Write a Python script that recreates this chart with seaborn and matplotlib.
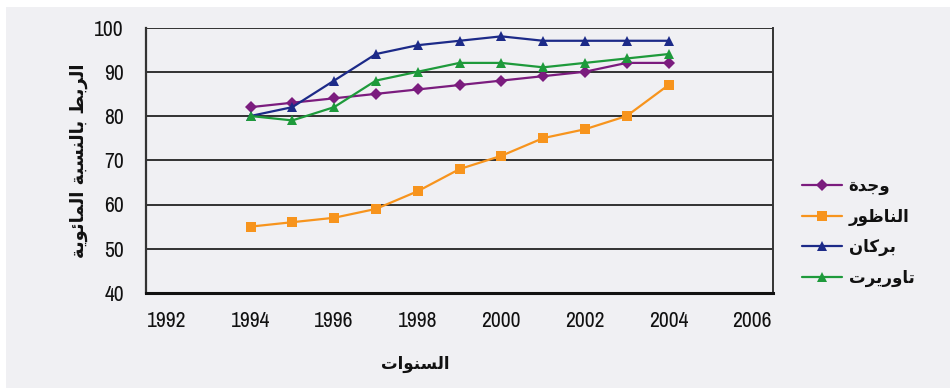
import matplotlib
matplotlib.use('Agg')
import matplotlib.pyplot as plt
from matplotlib.patches import Rectangle
import pandas as pd
import seaborn as sns

# Arabic text pre-shaped (presentation forms, visual order) since matplotlib has no RTL shaping
city_names = [
    '\uFE93\uFEAA\uFE9F\uFEED',                          # وجدة
    '\uFEAD\uFEEE\uFEC7\uFE8E\uFEE8\uFEDF\uFE8D',        # الناظور
    '\uFEE5\uFE8E\uFEDB\uFEAE\uFE91',                    # بركان
    '\uFE95\uFEAE\uFEF3\uFEAD\uFEED\uFE8E\uFE97',        # تاوريرت
]
x_label = '\uFE95\uFE8D\uFEEE\uFEE8\uFEB4\uFEDF\uFE8D'   # السنوات
y_label = ('\uFE94\uFEF3\uFEEE\uFE8B\uFE8E\uFEE4\uFEDF\uFE8D '
           '\uFE94\uFE92\uFEB4\uFEE8\uFEDF\uFE8E\uFE91 '
           '\uFEC2\uFE91\uFEAE\uFEDF\uFE8D')            # الربط بالنسبة المائوية

years = [1994, 1995, 1996, 1997, 1998, 1999, 2000, 2001, 2002, 2003, 2004]
oujda = [82, 83, 84, 85, 86, 87, 88, 89, 90, 92, 92]
nador = [55, 56, 57, 59, 63, 68, 71, 75, 77, 80, 87]
berkane = [80, 82, 88, 94, 96, 97, 98, 97, 97, 97, 97]
taourirt = [80, 79, 82, 88, 90, 92, 92, 91, 92, 93, 94]

colors = ['#7b1c7e', '#f7941d', '#1c2a88', '#1e9a3b']
markers = ['D', 's', '^', '^']
marker_sizes = [6, 7, 7, 7]

frames = []
for name, vals in zip(city_names, [oujda, nador, berkane, taourirt]):
    frames.append(pd.DataFrame({'year': years, 'value': vals, 'city': name}))
df = pd.concat(frames, ignore_index=True)

sns.set_style('white')
plt.rcParams['font.family'] = ['DejaVu Sans']
num_font = ['Archivo Narrow', 'Liberation Sans Narrow', 'DejaVu Sans']

fig = plt.figure(figsize=(9.5, 3.88), dpi=100, facecolor='white')
fig.patches.append(Rectangle((6 / 950, 0), 1, 1 - 7 / 388, transform=fig.transFigure,
                             facecolor='#f0f0f3', edgecolor='none', zorder=-5))
ax = fig.add_axes([146 / 950, 1 - 293 / 388, 627 / 950, 265.5 / 388])
ax.set_facecolor('none')

sns.lineplot(data=df, x='year', y='value', hue='city', style='city',
             palette=dict(zip(city_names, colors)),
             markers=dict(zip(city_names, markers)), dashes=False,
             markersize=7, markeredgewidth=0, linewidth=1.6, ax=ax, legend=False)
for line, ms in zip(ax.lines, marker_sizes):
    line.set_markersize(ms)

# Excel style category axis: labels every 2 years, tick marks between categories
ax.set_xlim(1991.5, 2006.5)
ax.set_xticks(range(1992, 2007, 2))
ax.set_xticks([y + 0.5 for y in range(1991, 2007)], minor=True)
ax.tick_params(axis='x', which='major', length=0, pad=13, labelsize=15.5)
ax.tick_params(axis='x', which='minor', length=5, width=1.2, color='#222222', direction='out')
ax.set_ylim(40, 100)
ax.set_yticks(range(40, 101, 10))
ax.tick_params(axis='y', length=5, width=1.2, color='#222222', direction='out', pad=11, labelsize=15.5)
for lab in ax.get_xticklabels() + ax.get_yticklabels():
    lab.set_family(num_font)
    lab.set_color('#111111')
ax.yaxis.grid(True, color='#111111', linewidth=1.2)
ax.set_axisbelow(True)

ax.spines['top'].set_visible(False)
ax.spines['left'].set_color('#333333')
ax.spines['left'].set_linewidth(1.6)
ax.spines['bottom'].set_color('#111111')
ax.spines['bottom'].set_linewidth(2.2)
ax.spines['right'].set_color('#333333')
ax.spines['right'].set_linewidth(1.4)

ax.set_xlabel(x_label, fontsize=12, fontweight='bold', color='#111111')
ax.xaxis.set_label_coords((415 - 146) / 627, -0.235)
ax.set_ylabel(y_label, fontsize=13, fontweight='bold', color='#111111')
ax.yaxis.set_label_coords(-0.093, 0.5)

handles = [plt.Line2D([], [], color=c, marker=m, markersize=ms, markeredgewidth=0, linewidth=1.6)
           for c, m, ms in zip(colors, markers, marker_sizes)]
fig.legend(handles, city_names, loc='upper left', bbox_to_anchor=(787 / 950, 1 - 162 / 388),
           frameon=False, handlelength=2.4, labelspacing=0.75, handletextpad=0.4,
           labelcolor='#111111',
           prop={'family': 'DejaVu Sans', 'weight': 'bold', 'size': 12})

fig.savefig('out.png', dpi=100, facecolor=fig.get_facecolor())
